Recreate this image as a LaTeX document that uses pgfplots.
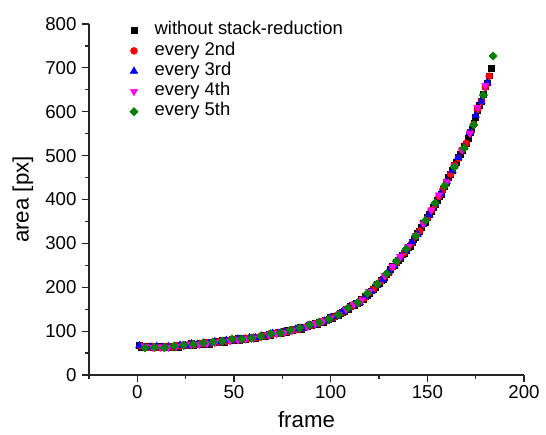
\documentclass[border=0pt]{standalone}
\usepackage{fontspec}
\setmainfont{Liberation Sans}
\usepackage{pgfplots}
\pgfplotsset{compat=1.18}
\usepackage{pgfplotstable}

\definecolor{mkred}{RGB}{255,0,0}
\definecolor{mkblue}{RGB}{0,0,255}
\definecolor{mkmag}{RGB}{255,0,255}
\definecolor{mkgreen}{RGB}{0,128,0}

% every frame
\pgfplotstableread{
f a
1 67
2 64
3 65
4 66
5 62
6 65
7 63
8 63
9 65
10 63
11 63
12 65
13 62
14 65
15 63
16 63
17 66
18 64
19 66
20 68
21 64
22 68
23 67
24 67
25 69
26 68
27 69
28 72
29 68
30 71
31 71
32 70
33 73
34 71
35 72
36 75
37 71
38 75
39 74
40 74
41 76
42 75
43 76
44 79
45 75
46 79
47 79
48 78
49 81
50 80
51 81
52 83
53 80
54 83
55 82
56 82
57 84
58 83
59 84
60 87
61 84
62 87
63 87
64 87
65 90
66 89
67 91
68 94
69 91
70 95
71 95
72 94
73 97
74 95
75 97
76 100
77 97
78 101
79 101
80 101
81 104
82 103
83 105
84 108
85 105
86 109
87 110
88 110
89 113
90 113
91 115
92 118
93 116
94 120
95 121
96 121
97 125
98 124
99 127
100 131
101 129
102 134
103 135
104 136
105 141
106 142
107 146
108 151
109 150
110 156
111 158
112 159
113 163
114 163
115 166
116 172
117 172
118 179
119 182
120 186
121 192
122 195
123 200
124 207
125 208
126 216
127 219
128 223
129 230
130 233
131 240
132 247
133 249
134 257
135 262
136 266
137 274
138 278
139 284
140 292
141 294
142 303
143 309
144 314
145 323
146 327
147 336
148 345
149 348
150 359
151 366
152 373
153 383
154 389
155 398
156 408
157 412
158 424
159 431
160 439
161 450
162 457
163 467
164 479
165 485
166 496
167 503
168 511
169 521
170 527
171 540
172 554
173 560
174 573
175 588
176 603
177 615
178 623
179 640
180 657
181 666
182 682
183 700
}\tblall

% every 2nd
\pgfplotstableread{
f a
2 66
4 65
6 63
8 65
10 64
12 62
14 65
16 65
18 64
20 67
22 66
24 69
26 68
28 71
30 69
32 72
34 71
36 74
38 73
40 76
42 75
44 78
46 77
48 80
50 80
52 82
54 81
56 84
58 83
60 86
62 85
64 89
66 89
68 93
70 93
72 96
74 95
76 99
78 99
80 103
82 103
84 107
86 107
88 112
90 113
92 117
94 118
96 123
98 124
100 130
102 132
104 138
106 142
108 150
110 154
112 161
114 163
116 171
118 177
120 188
122 195
124 206
126 214
128 225
130 233
132 246
134 255
136 268
138 278
140 291
142 301
144 316
146 328
148 344
150 357
152 375
154 389
156 407
158 422
160 441
162 458
164 478
166 494
168 513
170 528
172 553
174 571
176 605
178 624
180 656
182 681
}\tbltwo

% every 3rd
\pgfplotstableread{
f a
1 67
4 63
7 64
10 65
13 63
16 65
19 65
22 68
25 67
28 71
31 70
34 73
37 72
40 76
43 75
46 79
49 79
52 82
55 81
58 85
61 85
64 89
67 90
70 95
73 95
76 99
79 100
82 105
85 106
88 112
91 114
94 120
97 123
100 130
103 134
106 144
109 151
112 161
115 165
118 179
121 190
124 206
127 218
130 235
133 250
136 268
139 283
142 303
145 321
148 344
151 365
154 391
157 413
160 441
163 466
166 496
169 519
172 553
175 592
178 624
181 667
}\tblthree

% every 4th
\pgfplotstableread{
f a
4 65
8 63
12 64
16 63
20 65
24 67
28 69
32 70
36 72
40 74
44 76
48 78
52 80
56 82
60 84
64 87
68 91
72 94
76 97
80 101
84 105
88 110
92 117
96 123
100 130
104 138
108 150
112 161
116 171
120 190
124 207
128 226
132 247
136 270
140 292
144 318
148 345
152 376
156 410
160 440
164 476
168 513
172 551
176 610
180 660
}\tblfour

% every 5th
\pgfplotstableread{
f a
4 62
9 63
14 62
19 66
24 68
29 70
34 73
39 75
44 77
49 82
54 82
59 84
64 88
69 94
74 96
79 102
84 107
89 114
94 120
99 127
104 137
109 153
114 165
119 186
124 207
129 231
134 259
139 287
144 317
149 352
154 392
159 431
164 474
169 517
174 570
179 638
184 727
}\tblfive

\begin{document}
\begin{tikzpicture}
\begin{axis}[
    scale only axis,
    width=326.25pt, height=263.25pt,
    xmin=-25, xmax=200,
    ymin=0, ymax=800,
    axis x line*=bottom,
    axis y line*=left,
    axis line style={line width=0.9pt, black!85},
    xtick={0,50,...,200},
    ytick={0,100,...,800},
    minor xtick={-25,25,75,125,175},
    minor ytick={50,150,...,750},
    tick align=outside,
    major tick length=5.25pt,
    minor tick length=2.8pt,
    every tick/.style={line width=0.9pt, black!85},
    /pgf/number format/assume math mode=true,
    tick label style={font=\fontsize{14}{16}\selectfont},
    yticklabel style={inner sep=0pt, xshift=-4pt},
    xticklabel style={inner sep=0pt, yshift=-2.25pt},
    xlabel={frame},
    xlabel style={font=\fontsize{16.7}{19}\selectfont,
        at={(axis description cs:0.5,-0.151)}, anchor=base},
    ylabel={area [px]},
    ylabel style={font=\fontsize{16.7}{19}\selectfont,
        at={(axis description cs:-0.139,0.5)}, anchor=base},
    legend cell align=left,
    legend image code/.code={
        \path[draw=none, fill=none] (-6pt,0pt) -- (14.5pt,0pt);
        \draw[mark repeat=2, mark phase=2] plot coordinates {(-1pt,0pt) (0pt,0pt) (1pt,0pt)};
    },
    legend style={
        draw=none, fill=none, inner sep=0pt, outer sep=0pt,
        at={(axis description cs:0.085,1.01)}, anchor=north west,
        font=\fontsize{13.8}{15}\selectfont,
        row sep=0pt,
        nodes={inner sep=1pt, text height=9.7pt, text depth=3.5pt},
    },
]
    \addplot[only marks, mark=square*, mark size=2.2pt, black] table[x=f, y=a] {\tblall};
    \addlegendentry{without stack-reduction}
    \addplot[only marks, mark=*, mark size=2.6pt, mkred] table[x=f, y=a] {\tbltwo};
    \addlegendentry{every 2nd}
    \addplot[only marks, mark=triangle*, mark size=3.2pt, mkblue] table[x=f, y=a] {\tblthree};
    \addlegendentry{every 3rd}
    \addplot[only marks, mark=triangle*, mark options={rotate=180}, mark size=3.2pt, mkmag] table[x=f, y=a] {\tblfour};
    \addlegendentry{every 4th}
    \addplot[only marks, mark=square*, mark options={rotate=45}, mark size=2.2pt, mkgreen] table[x=f, y=a] {\tblfive};
    \addlegendentry{every 5th}
\end{axis}
\pgfresetboundingbox
\path ([shift={(-66.75pt,-45pt)}]current axis.south west)
    rectangle ([shift={(16.5pt,18pt)}]current axis.north east);
\end{tikzpicture}
\end{document}
